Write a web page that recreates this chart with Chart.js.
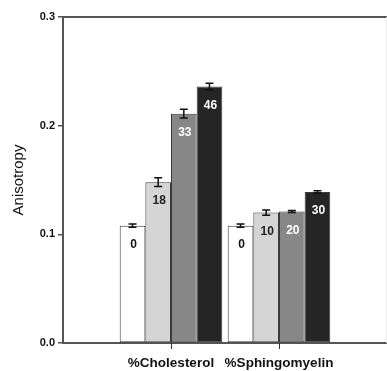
<!DOCTYPE html>
<html>
<head>
<meta charset="utf-8">
<script src="https://cdn.jsdelivr.net/npm/chart.js@4"></script>
<style>
html,body{margin:0;padding:0;background:#fff;overflow:hidden;}
#wrap{width:387px;height:371px;position:relative;}
</style>
</head>
<body>
<div id="wrap"><canvas id="c" width="387" height="371"></canvas></div>
<script>
const categories = ['', '%Cholesterol', '%Sphingomyelin', ''];
const cholVals = [0.108, 0.148, 0.211, 0.236];
const cholErr = [0.0015, 0.004, 0.004, 0.003];
const cholLabels = ['0', '18', '33', '46'];
const sphVals = [0.108, 0.120, 0.121, 0.139];
const sphErr = [0.0015, 0.0025, 0.001, 0.001];
const sphLabels = ['0', '10', '20', '30'];
const yTicks = [0.0, 0.1, 0.2, 0.3];

const fills = ['#ffffff', '#d5d5d5', '#878787', '#252525'];
const labelColors = ['#111111', '#222222', '#ffffff', '#ffffff'];

const datasets = fills.map((f, k) => ({
  label: 'level ' + k,
  data: [null, cholVals[k], sphVals[k], null],
  err: [null, cholErr[k], sphErr[k], null],
  txt: [null, cholLabels[k], sphLabels[k], null],
  backgroundColor: f,
  borderColor: '#3a3a3a',
  borderWidth: 1,
  borderSkipped: false,
  categoryPercentage: 0.95,
  barPercentage: 1.0
}));

const extras = {
  id: 'extras',
  afterDatasetsDraw(chart) {
    const ctx = chart.ctx;
    const ys = chart.scales.y;
    chart.data.datasets.forEach((ds, i) => {
      const meta = chart.getDatasetMeta(i);
      meta.data.forEach((el, j) => {
        const v = ds.data[j];
        if (v === null || v === undefined) return;
        const e = ds.err[j];
        const yt = ys.getPixelForValue(v + e);
        const yb = ys.getPixelForValue(v - e);
        ctx.save();
        ctx.strokeStyle = '#111';
        ctx.lineWidth = 1.5;
        ctx.beginPath();
        ctx.moveTo(el.x, yt); ctx.lineTo(el.x, yb);
        ctx.moveTo(el.x - 4, yt); ctx.lineTo(el.x + 4, yt);
        ctx.moveTo(el.x - 4, yb); ctx.lineTo(el.x + 4, yb);
        ctx.stroke();
        ctx.fillStyle = labelColors[i];
        ctx.font = 'bold 12px "Liberation Sans", Arial, sans-serif';
        ctx.textAlign = 'center';
        ctx.textBaseline = 'middle';
        ctx.fillText(ds.txt[j], el.x + 1, el.y + 19);
        ctx.restore();
      });
    });
  },
  afterDraw(chart) {
    const ctx = chart.ctx;
    const xs = chart.scales.x;
    const a = chart.chartArea;
    ctx.save();
    ctx.strokeStyle = '#555';
    ctx.lineWidth = 2;
    ctx.beginPath();
    ctx.moveTo(a.left - 1, a.top);
    ctx.lineTo(chart.width, a.top);
    ctx.stroke();
    ctx.strokeStyle = '#333';
    ctx.lineWidth = 1;
    ctx.beginPath();
    for (let idx = 0; idx < categories.length; idx++) {
      if (!categories[idx]) continue;
      const px = Math.round(xs.getPixelForTick(idx)) + 0.5;
      ctx.moveTo(px, a.bottom);
      ctx.lineTo(px, a.bottom + 6);
    }
    ctx.stroke();
    ctx.strokeStyle = '#eeeeee';
    ctx.lineWidth = 1;
    ctx.beginPath();
    ctx.moveTo(chart.width - 0.5, a.top);
    ctx.lineTo(chart.width - 0.5, a.bottom);
    ctx.stroke();
    ctx.restore();
  }
};

new Chart(document.getElementById('c'), {
  type: 'bar',
  data: { labels: categories, datasets: datasets },
  plugins: [extras],
  options: {
    responsive: false,
    animation: false,
    events: [],
    layout: { padding: { top: 17, right: 0, bottom: 0, left: 0 } },
    plugins: { legend: { display: false }, tooltip: { enabled: false } },
    scales: {
      x: {
        offset: false,
        afterFit(s) { s.height = 28; s.paddingLeft = 0; s.paddingRight = 0; },
        grid: {
          offset: false,
          drawOnChartArea: false,
          drawTicks: false,
          color: 'rgba(0,0,0,0)'
        },
        border: { color: '#555', width: 2 },
        ticks: {
          autoSkip: false,
          maxRotation: 0,
          padding: 12,
          color: '#111',
          font: { family: '"Liberation Sans", Arial, sans-serif', size: 13.5, weight: 'bold' }
        }
      },
      y: {
        min: 0,
        max: 0.3,
        afterFit(s) { s.width = 63; s.paddingTop = 0; s.paddingBottom = 0; },
        afterBuildTicks(s) { s.ticks = yTicks.map(v => ({ value: v })); },
        grid: { drawOnChartArea: false, drawTicks: true, tickLength: 5, color: '#555', lineWidth: 1.5 },
        border: { color: '#555', width: 2 },
        ticks: {
          padding: 3,
          color: '#111',
          callback: (v) => Number(v).toFixed(1),
          font: { family: '"Liberation Sans", Arial, sans-serif', size: 11, weight: 'bold' }
        },
        title: {
          display: true,
          text: 'Anisotropy',
          color: '#111',
          padding: { top: 10, bottom: 0 },
          font: { family: '"Liberation Sans", Arial, sans-serif', size: 15, weight: 'normal' }
        }
      }
    }
  }
});
</script>
</body>
</html>
